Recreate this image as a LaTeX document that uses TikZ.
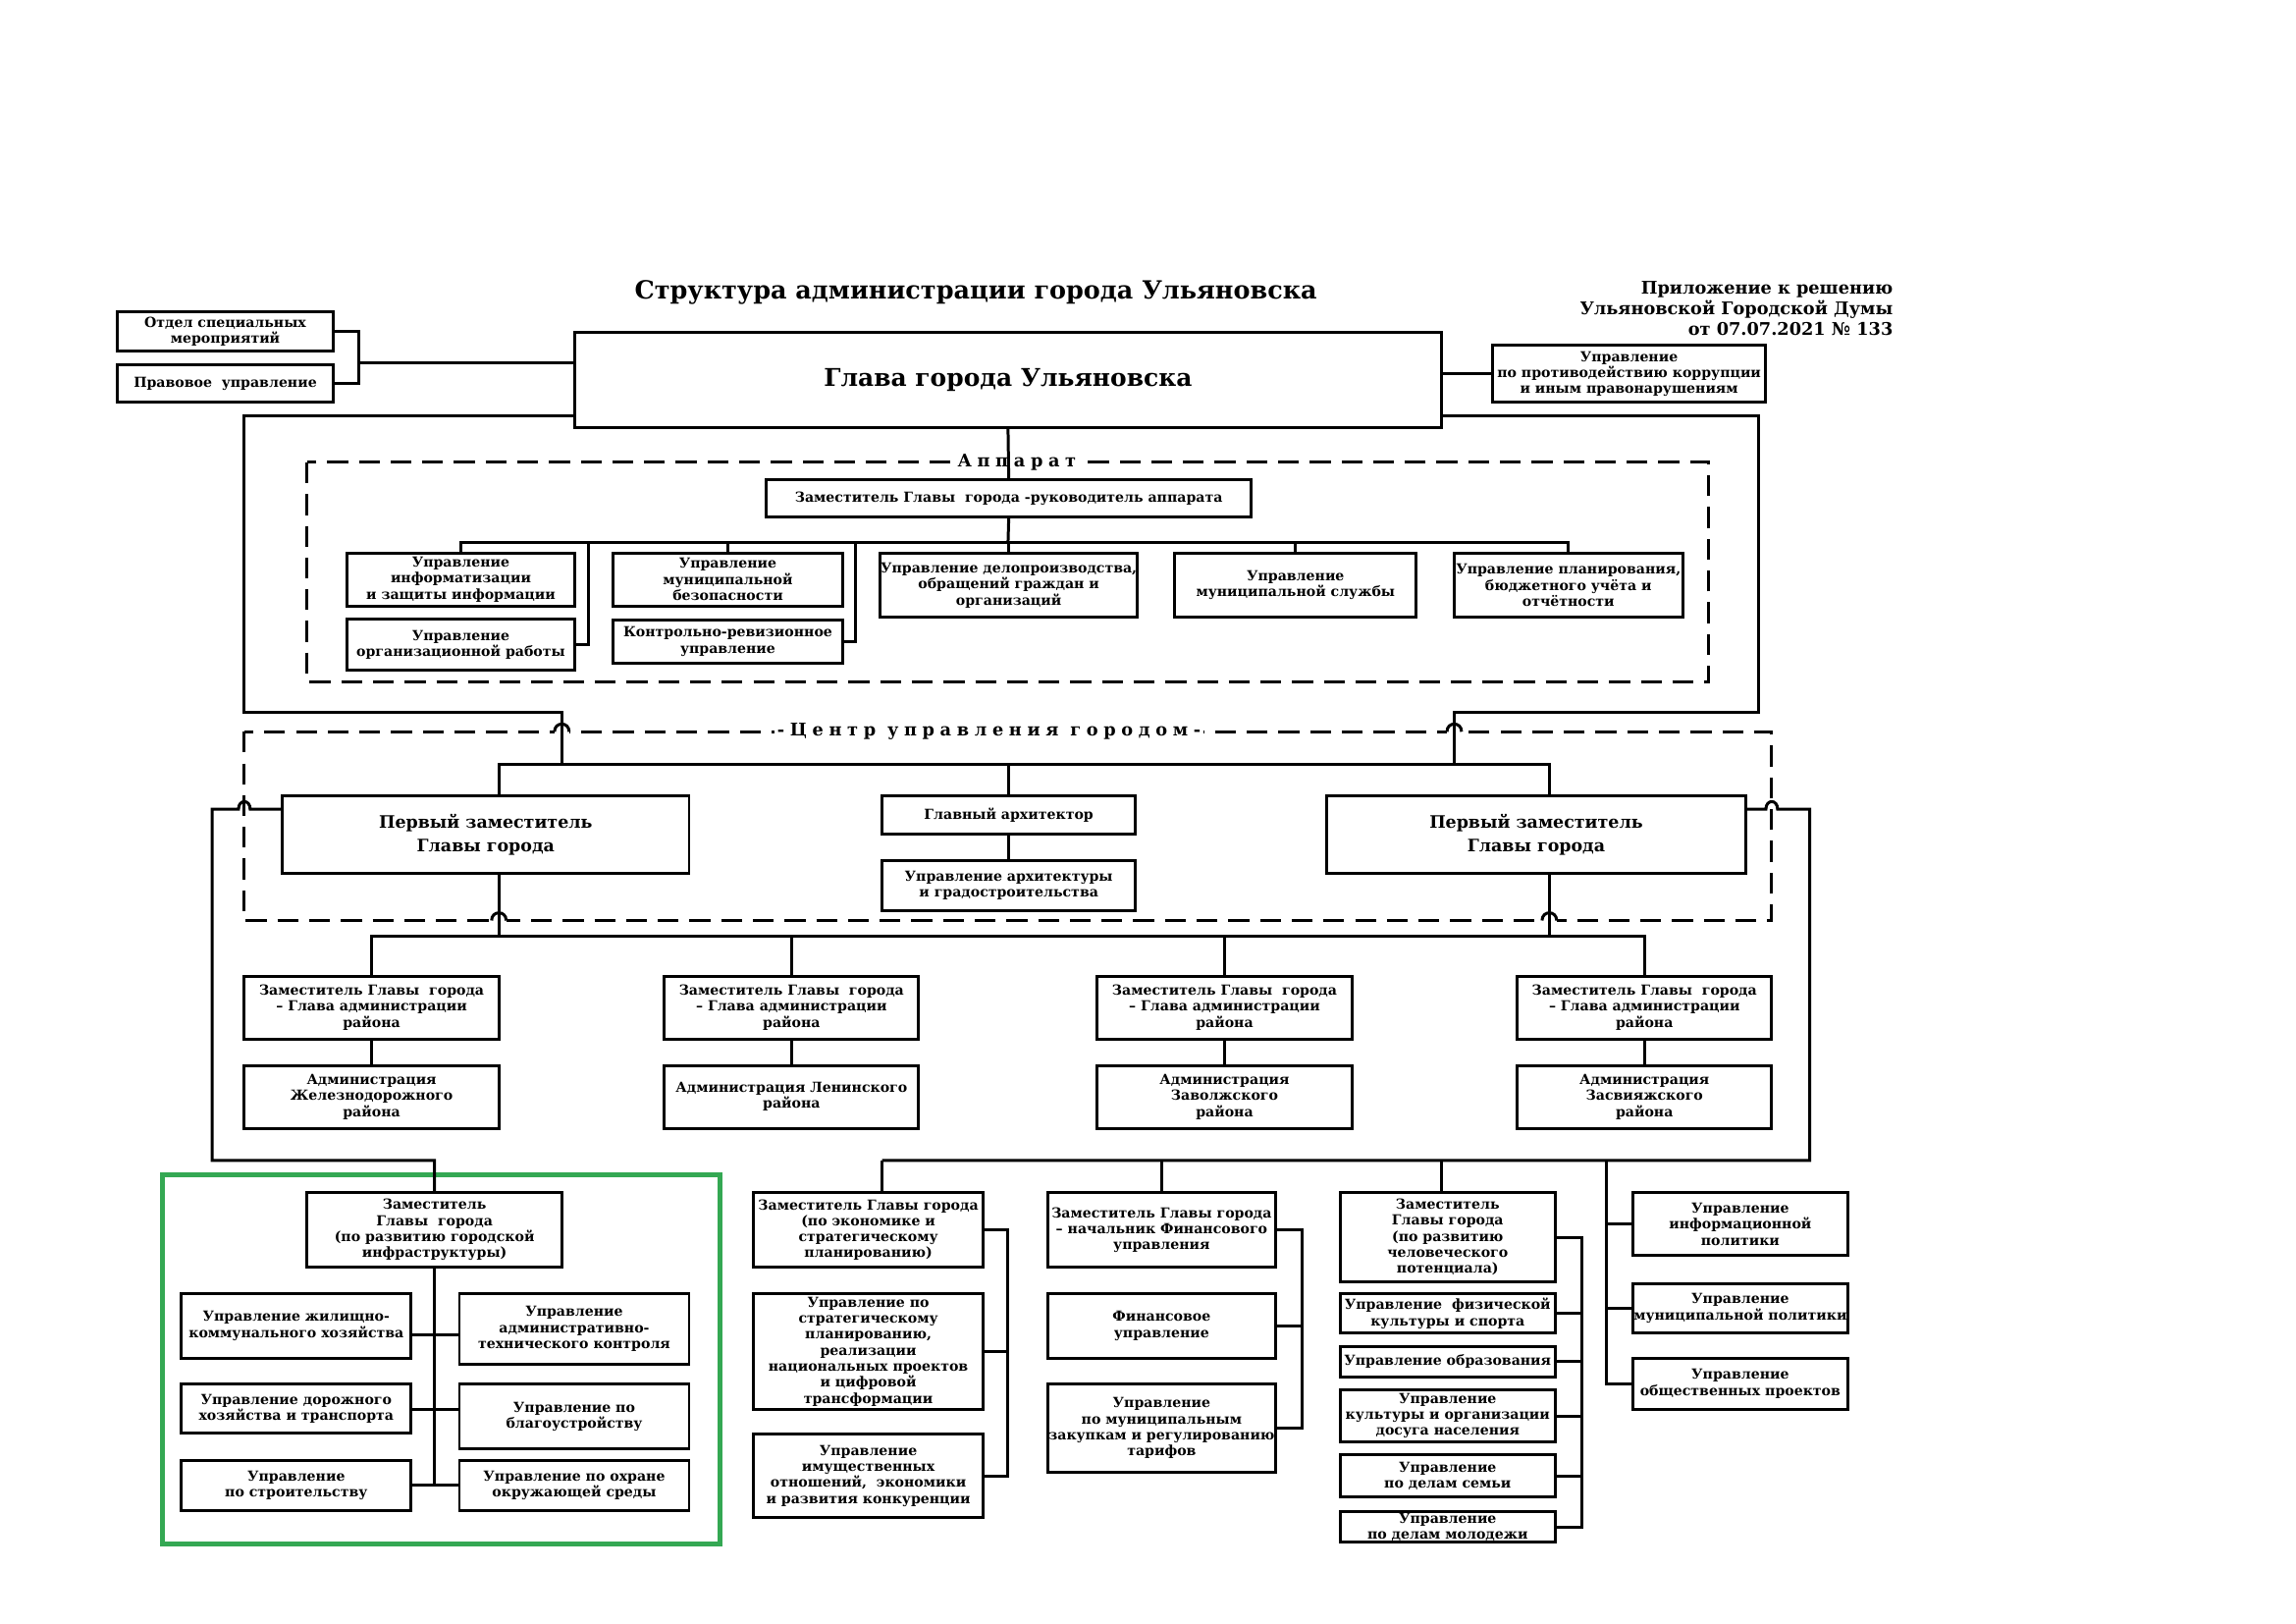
\documentclass[tikz,border=0pt]{standalone}
\usepackage{fontspec}
\setmainfont{DejaVu Serif}
\newfontfamily\spacedfont[LetterSpace=32]{DejaVu Serif}
\usetikzlibrary{calc}
\definecolor{frgreen}{RGB}{52,168,83}

\tikzset{
  box/.style={draw,line width=0.38mm,inner sep=0.3pt,align=center,fill=white,
    font=\bfseries\fontsize{5.1}{5.9}\selectfont},
  wh/.style 2 args={minimum width=#1*0.18926mm,minimum height=#2*0.18926mm},
  dashframe/.style={dash pattern=on 2.7mm off 1.4mm,line width=0.38mm},
  framelabel/.style={fill=white,inner sep=1pt,font=\spacedfont\bfseries\fontsize{6.4}{7}\selectfont}
}

% small hop of a dashed line over a solid one
\newcommand\hop[2]{%
  \fill[white] (#1-5,#2-2) rectangle (#1+5,#2+2);
  \draw (#1-5,#2) .. controls (#1-5,#2-7) and (#1+5,#2-7) .. (#1+5,#2);}

\begin{document}
\begin{tikzpicture}[x=0.18926mm,y=-0.18926mm,line width=0.38mm]
  \useasboundingbox (0mm,0mm) rectangle (297mm,-210mm);

  % headings
  \node[font=\bfseries\fontsize{9.2}{11}\selectfont] (title) at (667,200) {Структура администрации города Ульяновска};
  \node[anchor=east,align=right,font=\bfseries\fontsize{6.4}{7.6}\selectfont] (appx) at (1301,211)
    {Приложение к решению\\Ульяновской Городской Думы\\от 07.07.2021 № 133};

  % dashed frames
  \draw[dashframe] (210,316) rectangle (1168,466);
  \draw[dashframe] (167,500) rectangle (1211,629);
  \node[framelabel] (lab_ap) at (695,316) {Аппарат};
  \node[framelabel] (lab_c) at (676,500) {-Центр\ управления\ городом-};
  \hop{384}{500} \hop{994}{500} \hop{341}{629} \hop{1059}{629}
  \draw[frgreen,line width=0.6mm] (111,803) rectangle (492,1055);

  % head
  \node[box,wh={148}{27}] (otd) at (154,226.5) {Отдел специальных\\мероприятий};
  \node[box,wh={148}{26}] (prav) at (154,262) {Правовое\ \ управление};
  \node[box,wh={592}{65},font=\bfseries\fontsize{9}{11}\selectfont] (glava) at (689,259.5) {Глава города Ульяновска};
  \node[box,wh={187}{39}] (korr) at (1113.5,255.5) {Управление\\по противодействию коррупции\\и иным правонарушениям};

  % apparat
  \node[box,wh={331}{25}] (zam_ap) at (689.5,340.5) {Заместитель Главы\ \ города -руководитель аппарата};
  \node[box,wh={156}{36}] (ap_1) at (315,396) {Управление\\информатизации\\и защиты информации};
  \node[box,wh={156}{35}] (ap_2) at (315,440.5) {Управление\\организационной работы};
  \node[box,wh={157}{36}] (ap_3) at (497.5,396) {Управление\\муниципальной\\безопасности};
  \node[box,wh={157}{29}] (ap_4) at (497.5,438.5) {Контрольно-ревизионное\\управление};
  \node[box,wh={173}{44}] (ap_5) at (689.5,400) {Управление делопроизводства,\\обращений граждан и\\организаций};
  \node[box,wh={165}{44}] (ap_6) at (885.5,400) {Управление\\муниципальной службы};
  \node[box,wh={156}{44}] (ap_7) at (1072,400) {Управление планирования,\\бюджетного учёта и\\отчётности};

  % centre
  \node[box,wh={278}{53},font=\bfseries\fontsize{6.3}{8.6}\selectfont] (p_l) at (332,570.5) {Первый заместитель\\Главы города};
  \node[box,wh={173}{26}] (arch) at (689.5,557) {Главный архитектор};
  \node[box,wh={173}{34}] (arch_u) at (689.5,605) {Управление архитектуры\\и градостроительства};
  \node[box,wh={286}{53},font=\bfseries\fontsize{6.3}{8.6}\selectfont] (p_r) at (1050,570.5) {Первый заместитель\\Главы города};

  % districts
  \foreach \i/\x/\name in {1/254/{Администрация\\Железнодорожного\\района},
      2/541/{Администрация Ленинского\\района},
      3/837/{Администрация\\Заволжского\\района},
      4/1124/{Администрация\\Засвияжского\\района}}{
    \node[box,wh={174}{43}] (d_\i) at (\x,688.5) {Заместитель Главы\ \ города\\– Глава администрации\\района};
    \node[box,wh={174}{43}] (a_\i) at (\x,749.5) {\name};
  }

  % infrastructure
  \node[box,wh={174}{51}] (z_inf) at (297,840.5) {Заместитель\\Главы\ \ города\\(по развитию городской\\инфраструктуры)};
  \node[box,wh={157}{44}] (i_1) at (202.5,906) {Управление жилищно-\\коммунального хозяйства};
  \node[box,wh={157}{33}] (i_2) at (202.5,962.5) {Управление дорожного\\хозяйства и транспорта};
  \node[box,wh={157}{34}] (i_3) at (202.5,1015) {Управление\\по строительству};
  \node[box,wh={157}{48}] (i_4) at (392.5,908) {Управление\\административно-\\технического контроля};
  \node[box,wh={157}{44}] (i_5) at (392.5,968) {Управление по\\благоустройству};
  \node[box,wh={157}{34}] (i_6) at (392.5,1015) {Управление по охране\\окружающей среды};

  % economy
  \node[box,wh={157}{51}] (z_ek) at (593.5,840.5) {Заместитель Главы города\\(по экономике и\\стратегическому\\планированию)};
  \node[box,wh={157}{79}] (e_1) at (593.5,923.5) {Управление по\\стратегическому\\планированию,\\реализации\\национальных проектов\\и цифровой\\трансформации};
  \node[box,wh={157}{57}] (e_2) at (593.5,1008.5) {Управление\\имущественных\\отношений,\ \ экономики\\и развития конкуренции};

  % finance
  \node[box,wh={156}{51}] (z_fin) at (794,840.5) {Заместитель Главы города\\– начальник Финансового\\управления};
  \node[box,wh={156}{44}] (f_1) at (794,906) {Финансовое\\управление};
  \node[box,wh={156}{60}] (f_2) at (794,976) {Управление\\по муниципальным\\закупкам и регулированию\\тарифов};

  % human potential
  \node[box,wh={147}{61}] (z_chel) at (989.5,845.5) {Заместитель\\Главы города\\(по развитию\\человеческого\\потенциала)};
  \node[box,wh={147}{27}] (h_1) at (989.5,897.5) {Управление\ \ физической\\культуры и спорта};
  \node[box,wh={147}{21}] (h_2) at (989.5,930.5) {Управление образования};
  \node[box,wh={147}{35}] (h_3) at (989.5,967.5) {Управление\\культуры и организации\\досуга населения};
  \node[box,wh={147}{29}] (h_4) at (989.5,1008.5) {Управление\\по делам семьи};
  \node[box,wh={147}{21}] (h_5) at (989.5,1043.5) {Управление\\по делам молодежи};

  % right column
  \node[box,wh={147}{43}] (r_1) at (1189.5,836.5) {Управление\\информационной\\политики};
  \node[box,wh={147}{34}] (r_2) at (1189.5,894) {Управление\\муниципальной политики};
  \node[box,wh={147}{35}] (r_3) at (1189.5,945.5) {Управление\\общественных проектов};

  % junctions
  \coordinate (k_otd) at (245,248);
  \coordinate (g_l) at (393,284);
  \coordinate (g_r) at (985,284);
  \coordinate (bar_ap) at (689,371);
  \coordinate (k_1) at (402,371);
  \coordinate (k_2) at (585,371);
  \coordinate (c_l) at (384,522);
  \coordinate (c_r) at (994,522);
  \coordinate (t_l) at (341,522);
  \coordinate (t_r) at (1059,522);
  \coordinate (u_l) at (341,640);
  \coordinate (u_r) at (1059,640);
  \coordinate (s_l) at (193,553);
  \coordinate (s_r) at (1193,553);
  \coordinate (v_1) at (603,793);
  \coordinate (v_2) at (794,793);
  \coordinate (v_3) at (985,793);
  \coordinate (v_4) at (1098,793);
  \coordinate (j_1) at (297,912);
  \coordinate (j_2) at (297,963);
  \coordinate (j_3) at (297,1015);

  % head links
  \draw (otd.east) -| (k_otd) |- (prav.east);
  \draw (k_otd) -- (k_otd -| glava.west);
  \draw (korr.west) -- (korr.west -| glava.east);
  \draw (g_l) -- (167,284) -- (167,487) -- (384,487) -- (c_l);
  \draw (g_r) -- (1202,284) -- (1202,487) -- (994,487) -- (c_r);

  % apparat links
  \draw (glava.south) -- (zam_ap.north);
  \draw (zam_ap.south) -- (bar_ap);
  \draw (ap_1.north) |- (bar_ap) -| (ap_7.north);
  \draw (ap_3.north) -- (ap_3.north |- bar_ap);
  \draw (ap_5.north) -- (ap_5.north |- bar_ap);
  \draw (ap_6.north) -- (ap_6.north |- bar_ap);
  \draw (ap_2.east) -| (k_1);
  \draw (ap_4.east) -| (k_2);

  % centre links
  \draw (t_l |- p_l.north) -- (t_l) -- (t_r) -- (t_r |- p_r.north);
  \draw (arch.north) -- (arch.north |- t_l);
  \draw (arch.south) -- (arch_u.north);
  \draw (t_l |- p_l.south) -- (u_l);
  \draw (t_r |- p_r.south) -- (u_r);
  \draw (d_1.north) |- (u_l) -- (u_r) -| (d_4.north);
  \draw (d_2.north) -- (d_2.north |- u_l);
  \draw (d_3.north) -- (d_3.north |- u_l);
  \foreach \i in {1,...,4}
    \draw (d_\i.south) -- (a_\i.north);

  % side links
  \draw (s_l) -- (171,553) .. controls (171,546) and (163,546) .. (163,553) -- (145,553) -- (145,793) -| (z_inf.north);
  \draw (s_r) -- (1207,553) .. controls (1207,546) and (1215,546) .. (1215,553) -- (1237,553) -- (1237,793) -- (v_1);
  \draw (v_1) -- (v_1 |- z_ek.north);
  \draw (v_2) -- (z_fin.north);
  \draw (v_3) -- (v_3 |- z_chel.north);

  % infrastructure links
  \draw (z_inf.south) -- (j_3);
  \draw (i_1.east |- j_1) -- (i_4.west |- j_1);
  \draw (i_2.east |- j_2) -- (i_5.west |- j_2);
  \draw (i_3.east |- j_3) -- (i_6.west |- j_3);

  % brackets
  \draw (z_ek.east) -| ($(e_2.east)+(16,0)$) -- (e_2.east);
  \draw (e_1.east) -- ++(16,0);
  \draw (z_fin.east) -| ($(f_2.east)+(17,0)$) -- (f_2.east);
  \draw (f_1.east) -- ++(17,0);
  \draw (z_chel.east) -| ($(h_5.east)+(17,0)$) -- (h_5.east);
  \foreach \i in {1,...,4}
    \draw (h_\i.east) -- ++(17,0);
  \draw (v_4) |- (r_3.west);
  \draw (r_1.west) -- (r_1.west -| v_4);
  \draw (r_2.west) -- (r_2.west -| v_4);
\end{tikzpicture}
\end{document}
